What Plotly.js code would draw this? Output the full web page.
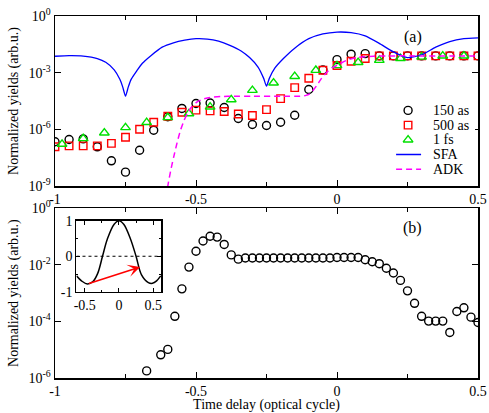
<!DOCTYPE html>
<html>
<head>
<meta charset="utf-8">
<script src="https://cdn.plot.ly/plotly-3.0.1.min.js"></script>
<style>html,body{margin:0;padding:0;background:#fff;}#chart{width:489px;height:413px;}</style>
</head>
<body>
<div id="chart"></div>
<script>
// ---- Panel (a): log10 of normalized yields ----
const x150 = [-1,-0.95,-0.9,-0.85,-0.8,-0.75,-0.7,-0.65,-0.6,-0.55,-0.5,-0.45,-0.4,-0.35,-0.3,-0.25,-0.2,-0.15,-0.1,-0.05,0,0.05,0.1,0.15,0.2,0.25,0.3,0.35,0.4,0.45,0.5];
const y150 = [-6.65,-6.53,-6.5,-6.92,-7.66,-8.26,-7.10,-6.04,-5.33,-4.89,-4.63,-4.60,-4.84,-5.42,-5.74,-5.79,-5.62,-5.25,-3.89,-2.85,-2.31,-2.02,-1.99,-2.11,-2.11,-2.11,-2.11,-2.11,-2.11,-2.11,-2.11];
const x500 = [-1,-0.95,-0.9,-0.85,-0.8,-0.75,-0.7,-0.65,-0.6,-0.55,-0.5,-0.45,-0.4,-0.35,-0.3,-0.25,-0.2,-0.15,-0.1,-0.05,0,0.05,0.1,0.15,0.2,0.25,0.3,0.35,0.4,0.45,0.5];
const y500 = [-6.92,-6.87,-6.87,-6.87,-6.74,-6.41,-5.99,-5.62,-5.30,-5.09,-4.98,-5.02,-5.05,-5.18,-5.26,-4.95,-4.37,-3.79,-3.29,-2.87,-2.62,-2.39,-2.25,-2.11,-2.11,-2.11,-2.11,-2.11,-2.11,-2.11,-2.11];
const x1fs = [-0.975,-0.9,-0.825,-0.75,-0.675,-0.6,-0.525,-0.45,-0.375,-0.3,-0.225,-0.15,-0.075,0,0.075,0.15,0.225,0.3,0.375,0.45];
const y1fs = [-6.78,-6.48,-6.18,-5.90,-5.63,-5.37,-5.16,-4.81,-4.42,-3.93,-3.54,-3.19,-2.87,-2.62,-2.45,-2.34,-2.24,-2.17,-2.11,-2.11];
const xSFA = [-1,-0.95,-0.9,-0.85,-0.82,-0.79,-0.77,-0.76,-0.75,-0.74,-0.73,-0.71,-0.69,-0.66,-0.62,-0.58,-0.54,-0.5,-0.46,-0.42,-0.38,-0.34,-0.31,-0.28,-0.26,-0.25,-0.24,-0.22,-0.19,-0.15,-0.1,-0.05,0,0.05,0.1,0.15,0.2,0.25,0.3,0.35,0.4,0.45,0.5];
const ySFA = [-2.13,-2.10,-2.12,-2.25,-2.45,-2.85,-3.35,-3.75,-4.24,-3.75,-3.35,-2.9,-2.5,-2.1,-1.65,-1.42,-1.28,-1.20,-1.22,-1.33,-1.55,-1.85,-2.2,-2.7,-3.3,-3.71,-3.3,-2.75,-2.25,-1.7,-1.2,-0.95,-0.85,-0.88,-1.05,-1.45,-1.9,-2.2,-2.05,-1.65,-1.35,-1.2,-1.16];
const xADK = [-0.605,-0.6,-0.59,-0.579,-0.567,-0.555,-0.543,-0.531,-0.515,-0.496,-0.475,-0.449,-0.41,-0.366,-0.3,-0.2,-0.13,-0.11,-0.095,-0.083,-0.071,-0.055,-0.035,-0.018,0,0.035,0.07,0.13,0.2,0.3,0.4,0.5];
const yADK = [-9.6,-9.0,-8.2,-7.45,-6.7,-6.04,-5.55,-5.16,-4.8,-4.54,-4.4,-4.31,-4.26,-4.24,-4.24,-4.24,-4.24,-4.2,-4.10,-3.9,-3.66,-3.3,-2.96,-2.75,-2.61,-2.34,-2.20,-2.13,-2.11,-2.11,-2.11,-2.11];

// ---- Panel (b) ----
const xB = [-0.675,-0.625,-0.6,-0.575,-0.55,-0.525,-0.5,-0.475,-0.45,-0.425,-0.4,-0.375,-0.35,-0.325,-0.3,-0.275,-0.25,-0.225,-0.2,-0.175,-0.15,-0.125,-0.1,-0.075,-0.05,-0.025,0,0.025,0.05,0.075,0.1,0.125,0.15,0.175,0.2,0.225,0.25,0.275,0.3,0.325,0.35,0.375,0.4,0.425,0.45,0.475,0.5];
const yB = [-5.75,-5.18,-4.99,-3.82,-2.85,-2.08,-1.52,-1.16,-0.99,-1.02,-1.28,-1.65,-1.80,-1.76,-1.76,-1.76,-1.76,-1.76,-1.76,-1.76,-1.76,-1.76,-1.76,-1.76,-1.76,-1.76,-1.74,-1.74,-1.74,-1.74,-1.82,-1.89,-1.96,-2.12,-2.29,-2.55,-2.92,-3.36,-3.82,-3.99,-3.99,-3.99,-4.39,-3.65,-3.52,-3.85,-4.04];

// ---- Inset ----
const xIn = [-0.62,-0.547,-0.46,-0.38,-0.31,-0.24,-0.17,-0.07,0,0.07,0.17,0.25,0.33,0.43,0.49,0.55,0.61];
const yIn = [-0.55,-0.69,-0.78,-0.71,-0.48,0,0.48,0.90,1.0,0.90,0.48,0,-0.52,-0.74,-0.76,-0.69,-0.55];

const topTicks = [-9,-6,-3,0];
const botTicks = [-6,-4,-2,0];
const xTicks = [-1,-0.5,0,0.5];
const xTickText = ['-1','-0.5','0','0.5'];
const legendNames = ['150 as','500 as','1 fs','SFA','ADK'];

const p10 = a => a.map(v => Math.pow(10, v));
const F = '"Liberation Serif","Times New Roman",serif';

const mk150 = {symbol:'circle-open', size:8, color:'#000', line:{width:1.4, color:'#000'}};
const mk500 = {symbol:'square-open', size:7.5, color:'#ff0000', line:{width:1.4, color:'#ff0000'}};
const mk1fs = {symbol:'triangle-up-open', size:8.5, color:'#00e000', line:{width:1.4, color:'#00e000'}};
const lnSFA = {color:'#0000ff', width:1.3};
const lnADK = {color:'#ff00ff', width:1.5, dash:'6px,4px'};

const legRows = [0,1,2,3,4];

const traces = [
  {x:x150, y:p10(y150), type:'scatter', mode:'markers', name:legendNames[0], xaxis:'x', yaxis:'y', marker:mk150},
  {x:x500, y:p10(y500), type:'scatter', mode:'markers', name:legendNames[1], xaxis:'x', yaxis:'y', marker:mk500},
  {x:x1fs, y:p10(y1fs), type:'scatter', mode:'markers', name:legendNames[2], xaxis:'x', yaxis:'y', marker:mk1fs},
  {x:xSFA, y:p10(ySFA), type:'scatter', mode:'lines', name:legendNames[3], xaxis:'x', yaxis:'y',
   line:Object.assign({shape:'spline', smoothing:0.6}, lnSFA)},
  {x:xADK, y:p10(yADK), type:'scatter', mode:'lines', name:legendNames[4], xaxis:'x', yaxis:'y',
   line:Object.assign({shape:'spline', smoothing:0.6}, lnADK)},
  {x:xB, y:p10(yB), type:'scatter', mode:'markers', xaxis:'x2', yaxis:'y2', marker:mk150},
  {x:xIn, y:yIn, type:'scatter', mode:'lines', xaxis:'x3', yaxis:'y3',
   line:{color:'#000', width:1.5, shape:'spline', smoothing:1}},
  {x:[-0.62,0.62], y:[0,0], type:'scatter', mode:'lines', xaxis:'x3', yaxis:'y3',
   line:{color:'#000', width:1.2, dash:'dot'}},
  // compact legend drawn on a hidden helper axis
  {x:[13], y:[legRows[0]], type:'scatter', mode:'markers', xaxis:'x4', yaxis:'y4', marker:mk150},
  {x:[13], y:[legRows[1]], type:'scatter', mode:'markers', xaxis:'x4', yaxis:'y4', marker:mk500},
  {x:[13], y:[legRows[2]], type:'scatter', mode:'markers', xaxis:'x4', yaxis:'y4', marker:mk1fs},
  {x:[1,26], y:[legRows[3],legRows[3]], type:'scatter', mode:'lines', xaxis:'x4', yaxis:'y4', line:lnSFA},
  {x:[1,26], y:[legRows[4],legRows[4]], type:'scatter', mode:'lines', xaxis:'x4', yaxis:'y4', line:lnADK}
];

const axCommon = {showline:true, mirror:'ticks', linecolor:'#000', linewidth:1.5, ticks:'inside',
  ticklen:6, tickwidth:1, tickcolor:'#000', showgrid:false, zeroline:false,
  tickfont:{family:F, size:14, color:'#000'}};
const minorX = {dtick:0.25, tick0:0, ticks:'inside', ticklen:4, tickcolor:'#000'};

const annotations = [
  {xref:'paper', yref:'paper', x:0.846, y:0.941, xanchor:'center', yanchor:'middle', text:'(a)', showarrow:false, font:{family:F, size:16, color:'#000'}},
  {xref:'paper', yref:'paper', x:0.846, y:0.4145, xanchor:'center', yanchor:'middle', text:'(b)', showarrow:false, font:{family:F, size:16, color:'#000'}},
  {xref:'x3', yref:'y3', axref:'x3', ayref:'y3', x:0.31, y:-0.3, ax:-0.46, ay:-0.78, text:'',
   showarrow:true, arrowhead:3, arrowsize:1.3, arrowwidth:1.6, arrowcolor:'#ff0000', standoff:0}
];
legendNames.forEach((n, i) => annotations.push({xref:'x4', yref:'y4', x:36, y:legRows[i], xanchor:'left', yanchor:'middle',
  text:n, showarrow:false, font:{family:F, size:14, color:'#000'}}));

const layout = {
  width:489, height:413,
  margin:{l:54.5, r:11, t:15.7, b:34.7},
  paper_bgcolor:'#fff', plot_bgcolor:'#fff',
  font:{family:F, color:'#000'},
  showlegend:false,
  xaxis:Object.assign({}, axCommon, {domain:[0,1], anchor:'y', range:[-1,0.5],
    tickvals:xTicks, ticktext:xTickText, minor:minorX}),
  yaxis:Object.assign({}, axCommon, {domain:[0.53,1], anchor:'x', type:'log', range:[-9,0],
    tickvals:p10(topTicks), ticktext:topTicks.map(t=>'10<sup>'+t+'</sup>'),
    title:{text:'Normalized yields (arb.u.)', font:{family:F, size:14, color:'#000'}, standoff:6}}),
  xaxis2:Object.assign({}, axCommon, {domain:[0,1], anchor:'y2', range:[-1,0.5],
    tickvals:xTicks, ticktext:xTickText, minor:minorX,
    title:{text:'Time delay (optical cycle)', font:{family:F, size:14, color:'#000'}, standoff:6}}),
  yaxis2:Object.assign({}, axCommon, {domain:[0,0.469], anchor:'x2', type:'log', range:[-6,0],
    tickvals:p10(botTicks), ticktext:botTicks.map(t=>'10<sup>'+t+'</sup>'),
    title:{text:'Normalized yields (arb.u.)', font:{family:F, size:14, color:'#000'}, standoff:6}}),
  xaxis3:Object.assign({}, axCommon, {domain:[0.0508,0.2515], anchor:'y3', range:[-0.62,0.62],
    linewidth:1.2, ticklen:4, tickvals:[-0.5,0,0.5], ticktext:['-0.5','0','0.5'],
    minor:{dtick:0.25, tick0:0, ticks:'inside', ticklen:2, tickcolor:'#000'}}),
  yaxis3:Object.assign({}, axCommon, {domain:[0.238,0.4346], anchor:'x3', range:[-1,1],
    linewidth:1.2, ticklen:4, tickvals:[-1,0,1], ticktext:['-1','0','1'],
    minor:{dtick:0.5, tick0:0, ticks:'inside', ticklen:2, tickcolor:'#000'}}),
  xaxis4:{domain:[0.804,0.993], anchor:'y4', range:[0,80], visible:false, fixedrange:true},
  yaxis4:{domain:[0.5525,0.7635], anchor:'x4', range:[4.6,-0.6], visible:false, fixedrange:true},
  annotations:annotations
};

Plotly.newPlot('chart', traces, layout, {displayModeBar:false, staticPlot:true});
</script>
</body>
</html>
